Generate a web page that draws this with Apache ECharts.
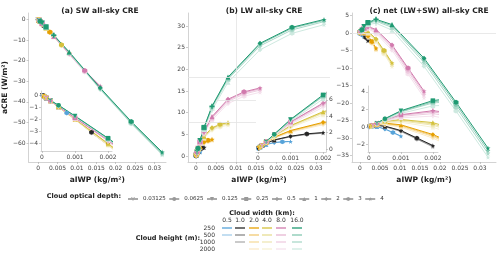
<!DOCTYPE html>
<html><head><meta charset="utf-8">
<script src="https://cdn.jsdelivr.net/npm/echarts@6/dist/echarts.min.js"></script>
<style>html,body{margin:0;padding:0;background:#fff}#c{width:500px;height:254px}</style>
</head><body><div id="c"></div>
<script>
// ---------------- data ----------------
const TAU_LABELS = ['0.03125','0.0625','0.125','0.25','0.5','1','2','3','4'];
const WIDTH_LABELS = ['0.5','1.0','2.0','4.0','8.0','16.0'];
const HEIGHT_LABELS = ['250','500','1000','2000'];

// aIWP (kg/m2) per cloud width, one value per optical depth
const AIWP_05 = [0.0000078,0.0000156,0.0000313,0.0000625,0.000125,0.00025,0.0005,0.00075,0.001];
const AIWP_1  = [0.0000156,0.0000313,0.0000625,0.000125,0.00025,0.0005,0.001,0.0015,0.002];
const AIWP_2  = [0.0000313,0.0000625,0.000125,0.00025,0.0005,0.001,0.002,0.003,0.004];
const AIWP_4  = [0.0000625,0.000125,0.00025,0.0005,0.001,0.002,0.004,0.006,0.008];
const AIWP_8  = [0.000125,0.00025,0.0005,0.001,0.002,0.004,0.008,0.012,0.016];
const AIWP_16 = [0.00025,0.0005,0.001,0.002,0.004,0.008,0.016,0.024,0.032];

// SW aCRE, rows = cloud heights 250, 500, 1000, 2000
const SW_05 = [[-0.015,-0.03,-0.06,-0.12,-0.25,-0.5,-1.0,-1.5,-1.95],[-0.015,-0.03,-0.06,-0.12,-0.25,-0.51,-1.01,-1.52,-1.97]];
const SW_1 = [[-0.03,-0.06,-0.12,-0.25,-0.5,-1.0,-1.95,-3.1,-4.1],[-0.03,-0.06,-0.12,-0.25,-0.51,-1.01,-1.97,-3.13,-4.14],[-0.03,-0.06,-0.12,-0.26,-0.51,-1.02,-1.99,-3.16,-4.18]];
const SW_2 = [[-0.06,-0.12,-0.24,-0.49,-1.0,-2.0,-4.1,-6.1,-8.2],[-0.06,-0.12,-0.24,-0.5,-1.01,-2.02,-4.14,-6.16,-8.28],[-0.06,-0.12,-0.25,-0.5,-1.02,-2.04,-4.18,-6.22,-8.36],[-0.06,-0.13,-0.25,-0.51,-1.03,-2.06,-4.22,-6.28,-8.44]];
const SW_4 = [[-0.12,-0.24,-0.48,-0.98,-2.0,-4.05,-8.2,-12.3,-16.2],[-0.12,-0.24,-0.49,-0.99,-2.02,-4.1,-8.28,-12.4,-16.4],[-0.12,-0.25,-0.49,-1.0,-2.04,-4.14,-8.36,-12.55,-16.5],[-0.13,-0.25,-0.5,-1.01,-2.06,-4.18,-8.44,-12.7,-16.7]];
const SW_8 = [[-0.23,-0.47,-0.95,-1.9,-3.75,-8.1,-16.5,-24.8,-32.3],[-0.23,-0.47,-0.96,-1.92,-3.79,-8.18,-16.7,-25.0,-32.6],[-0.24,-0.48,-0.97,-1.94,-3.83,-8.26,-16.8,-25.3,-32.9],[-0.24,-0.48,-0.98,-1.96,-3.86,-8.34,-17.0,-25.5,-33.2]];
const SW_16 = [[-0.45,-0.85,-1.75,-3.6,-7.6,-15.8,-33.2,-49.5,-64.4],[-0.45,-0.86,-1.77,-3.63,-7.67,-15.95,-33.5,-49.9,-64.9],[-0.46,-0.87,-1.79,-3.67,-7.75,-16.1,-33.8,-50.3,-65.4],[-0.46,-0.88,-1.8,-3.7,-7.8,-16.2,-34.0,-50.6,-65.8]];

// LW aCRE
const LW_05 = [[0.03,0.06,0.11,0.21,0.36,0.55,0.78,0.88,0.92],[0.03,0.05,0.11,0.2,0.35,0.54,0.76,0.86,0.9]];
const LW_1 = [[0.06,0.11,0.23,0.41,0.72,1.1,1.55,1.85,2.0],[0.06,0.11,0.22,0.4,0.7,1.08,1.52,1.81,1.96],[0.05,0.11,0.22,0.39,0.68,1.05,1.48,1.77,1.92]];
const LW_2 = [[0.11,0.23,0.45,0.82,1.44,2.25,3.25,3.65,3.85],[0.11,0.22,0.44,0.8,1.4,2.2,3.18,3.58,3.78],[0.11,0.21,0.43,0.78,1.36,2.14,3.1,3.5,3.7],[0.1,0.2,0.41,0.74,1.3,2.04,2.96,3.35,3.55]];
const LW_4 = [[0.23,0.45,0.9,1.64,2.85,4.55,6.5,7.3,7.7],[0.22,0.44,0.88,1.6,2.8,4.45,6.35,7.15,7.55],[0.21,0.43,0.86,1.56,2.72,4.35,6.2,7.0,7.4],[0.2,0.41,0.82,1.5,2.6,4.15,5.95,6.7,7.1]];
const LW_8 = [[0.45,0.9,1.8,3.3,5.6,9.1,13.1,14.8,15.7],[0.45,0.9,1.75,3.25,5.5,8.9,12.9,14.6,15.5],[0.43,0.87,1.7,3.15,5.35,8.7,12.6,14.3,15.2],[0.41,0.82,1.62,3.0,5.1,8.3,12.1,13.8,14.7]];
const LW_16 = [[0.9,1.8,3.6,6.6,11.5,18.2,26.0,29.7,31.5],[0.9,1.8,3.55,6.5,11.3,18.0,25.8,29.5,31.3],[0.85,1.75,3.5,6.4,11.1,17.7,25.4,29.1,31.0],[0.8,1.65,3.35,6.1,10.6,17.0,24.5,28.3,30.3]];

// net aCRE
const NET_05 = [[0.015,0.03,0.05,0.09,0.11,0.05,-0.22,-0.62,-1.03],[0.015,0.02,0.05,0.08,0.1,0.03,-0.25,-0.66,-1.07]];
const NET_1 = [[0.03,0.05,0.11,0.16,0.22,0.1,-0.4,-1.25,-2.1],[0.03,0.05,0.1,0.15,0.19,0.07,-0.45,-1.32,-2.18],[0.02,0.05,0.1,0.13,0.17,0.03,-0.51,-1.39,-2.26]];
const NET_2 = [[0.05,0.11,0.21,0.33,0.44,0.25,-0.85,-2.45,-4.35],[0.05,0.1,0.2,0.3,0.39,0.18,-0.96,-2.58,-4.5],[0.05,0.09,0.18,0.28,0.34,0.1,-1.08,-2.72,-4.66],[0.04,0.07,0.16,0.23,0.27,-0.02,-1.26,-2.93,-4.89]];
const NET_4 = [[0.11,0.21,0.42,0.66,0.85,0.5,-1.7,-5.0,-8.5],[0.1,0.2,0.39,0.61,0.78,0.35,-1.93,-5.25,-8.85],[0.09,0.18,0.37,0.56,0.68,0.21,-2.16,-5.55,-9.1],[0.07,0.16,0.32,0.49,0.54,-0.03,-2.49,-6.0,-9.6]];
const NET_8 = [[0.22,0.43,0.85,1.4,1.85,1.0,-3.4,-10.0,-16.6],[0.22,0.43,0.79,1.33,1.71,0.72,-3.8,-10.4,-17.1],[0.19,0.39,0.73,1.21,1.52,0.44,-4.2,-11.0,-17.7],[0.17,0.34,0.64,1.04,1.24,-0.04,-4.9,-11.7,-18.5]];
const NET_16 = [[0.45,0.95,1.85,3.0,3.9,2.4,-7.2,-19.8,-32.9],[0.45,0.94,1.78,2.87,3.63,2.05,-7.7,-20.4,-33.6],[0.39,0.88,1.71,2.73,3.35,1.6,-8.4,-21.2,-34.4],[0.34,0.77,1.55,2.4,2.8,0.8,-9.5,-22.3,-35.5]];

// axis tick values
const MAIN_X_TICKS = [0,0.005,0.01,0.015,0.02,0.025,0.03];
const INSET_X_TICKS = [0,0.001,0.002];
const SW_Y_TICKS = [0,-10,-20,-30,-40,-50,-60];
const LW_Y_TICKS = [0,5,10,15,20,25,30];
const NET_Y_TICKS = [5,0,-5,-10,-15,-20,-25,-30,-35];
const SW_INSET_Y_TICKS = [0,-1,-2,-3,-4];
const LW_INSET_Y_TICKS = [0,2,4,6];
const NET_INSET_Y_TICKS = [4,2,0,-2];
// reference guide lines in panel (b)
const LW_GUIDE_X = 0.008;
const LW_GUIDE_Y = [18.2, 12.9, 7.8];

// ---------------- styling ----------------
const FONT = 'DejaVu Sans';
const WIDTH_COLORS = ['#56a3d9','#262626','#e69f00','#d4c13c','#d17aad','#1f9a72'];
const HEIGHT_MIX = [0, 0.45, 0.62, 0.78];
const SYMS = [
  'path://M4.4,5L4.4,10L5.6,10L5.6,5Z M5,5.7L0.6,3L1.2,2L5.6,4.7Z M5,5.7L9.4,3L8.8,2L4.4,4.7Z',
  'circle',
  'path://M0,0L10,0L5,9Z',
  'rect',
  'path://M3.5,0H6.5V3.5H10V6.5H6.5V10H3.5V6.5H0V3.5H3.5Z',
  'triangle',
  'diamond',
  'path://M5,0L9.33,2.5L9.33,7.5L5,10L0.67,7.5L0.67,2.5Z',
  'path://M5,0L6.2,3.6L10,3.6L6.9,5.9L8.1,9.5L5,7.3L1.9,9.5L3.1,5.9L0,3.6L3.8,3.6Z'
];
function mix(hex, t){
  const n = parseInt(hex.slice(1),16);
  const r=(n>>16)&255,g=(n>>8)&255,b=n&255;
  const f=c=>Math.round(c+(255-c)*t);
  return 'rgb('+f(r)+','+f(g)+','+f(b)+')';
}
const fmt = v => { const a = +Math.abs(v).toFixed(4); return (v<0?'\u2212':'') + String(a); };

const DEFS = [
  {x:AIWP_05, sw:SW_05, lw:LW_05, net:NET_05},
  {x:AIWP_1,  sw:SW_1,  lw:LW_1,  net:NET_1},
  {x:AIWP_2,  sw:SW_2,  lw:LW_2,  net:NET_2},
  {x:AIWP_4,  sw:SW_4,  lw:LW_4,  net:NET_4},
  {x:AIWP_8,  sw:SW_8,  lw:LW_8,  net:NET_8},
  {x:AIWP_16, sw:SW_16, lw:LW_16, net:NET_16}
];
const KEYS = ['sw','lw','net'];

// grids: 0-2 main, 3-5 inset
const grids = [
  {left:24, top:13, width:142, height:149},
  {left:188, top:13, width:142, height:149},
  {left:352, top:13, width:144, height:149},
  {left:41, top:91, width:71, height:60},
  {left:256, top:92, width:70, height:60},
  {left:368, top:86, width:70, height:66}
];
function axis(gi, min, max, ticks, extra){
  return Object.assign({
    type:'value', gridIndex:gi, min:min, max:max,
    axisLine:{show:true, onZero:false, lineStyle:{color:'#c8c8c8', width:0.8}},
    axisTick:{show:true, length:2, customValues:ticks, lineStyle:{color:'#aaa', width:0.6}},
    axisLabel:{show:true, customValues:ticks, formatter:fmt, fontSize:6, color:'#444', margin:3, fontFamily:FONT},
    splitLine:{show:false}
  }, extra||{});
}
const xName = {name:'aIWP (kg/m\u00b2)', nameLocation:'middle', nameGap:12,
  nameTextStyle:{fontSize:7.5, fontWeight:'bold', color:'#222', fontFamily:FONT}};
const xAxes = [
  axis(0,-0.0025,0.033,MAIN_X_TICKS,xName),
  axis(1,-0.002,0.0335,MAIN_X_TICKS,xName),
  axis(2,-0.002,0.034,MAIN_X_TICKS,xName),
  axis(3,-0.00003,0.00212,INSET_X_TICKS,{z:7}),
  axis(4,-0.00006,0.00209,INSET_X_TICKS,{z:7}),
  axis(5,-0.00003,0.00216,INSET_X_TICKS,{z:7})
];
const yAxes = [
  axis(0,-69.2,3.15,SW_Y_TICKS,{name:'aCRE (W/m\u00b2)', nameLocation:'middle', nameGap:15,
    nameTextStyle:{fontSize:7.5, fontWeight:'bold', color:'#222', fontFamily:FONT}}),
  axis(1,-1.39,33.0,LW_Y_TICKS),
  axis(2,-36.86,5.71,NET_Y_TICKS),
  axis(3,-4.67,0.33,SW_INSET_Y_TICKS,{z:7}),
  axis(4,-0.37,6.95,LW_INSET_Y_TICKS,{z:7, position:'right'}),
  axis(5,-2.84,4.66,NET_INSET_Y_TICKS,{z:7})
];

const series = [];
// guide lines
const guideStyle = {color:'#e3e3e3', width:0.8, type:'solid'};
series.push({type:'line', xAxisIndex:1, yAxisIndex:1, data:[], silent:true, z:1,
  markLine:{silent:true, symbol:'none', label:{show:false}, lineStyle:guideStyle, animation:false,
    data:[
      {xAxis:LW_GUIDE_X},
      [{coord:[-0.002,LW_GUIDE_Y[0]]},{coord:[0.0335,LW_GUIDE_Y[0]]}],
      [{coord:[0.005,LW_GUIDE_Y[1]]},{coord:[0.015,LW_GUIDE_Y[1]]}],
      [{coord:[-0.002,LW_GUIDE_Y[2]]},{coord:[0.015,LW_GUIDE_Y[2]]}]
    ]}});
series.push({type:'line', xAxisIndex:2, yAxisIndex:2, data:[], silent:true, z:1,
  markLine:{silent:true, symbol:'none', label:{show:false}, lineStyle:guideStyle, animation:false,
    data:[{yAxis:0}]}});

for (let p=0;p<3;p++){
  for (let w=0; w<DEFS.length; w++){
    const d = DEFS[w], rows = d[KEYS[p]];
    for (let h=rows.length-1; h>=0; h--){
      const col = mix(WIDTH_COLORS[w], HEIGHT_MIX[h]);
      const data = rows[h].map((v,i)=>({value:[d.x[i], v], symbol:SYMS[i]}));
      const base = {type:'line', data:data, showAllSymbol:true, silent:true,
        lineStyle:{color:col, width:1}, itemStyle:{color:col}, animation:false,
        name: WIDTH_LABELS[w]+'/'+HEIGHT_LABELS[h]};
      series.push(Object.assign({}, base, {xAxisIndex:p, yAxisIndex:p, z:2, symbolSize:5}));
      series.push(Object.assign({}, base, {xAxisIndex:p+3, yAxisIndex:p+3, z:6, clip:true, symbolSize:4.5}));
    }
  }
}
// legend-only series for optical depths
TAU_LABELS.forEach((t,i)=>{
  series.push({type:'line', name:t, xAxisIndex:0, yAxisIndex:0, data:[], symbol:SYMS[i], symbolSize:5,
    lineStyle:{color:'#aaa', width:1}, itemStyle:{color:'#999'}});
});

// width/height table legend (graphic)
const COL_X = [227,240,254,267,281,297];
const ROW_Y = [228,235,242,249];
const graphic = [];
graphic.push({type:'text', x:121, y:196, style:{text:'Cloud optical depth:', font:'bold 6.5px '+FONT, fill:'#222', textAlign:'right', textVerticalAlign:'middle'}});
graphic.push({type:'text', x:262, y:213, style:{text:'Cloud width (km):', font:'bold 6.5px '+FONT, fill:'#222', textAlign:'center', textVerticalAlign:'middle'}});
graphic.push({type:'text', x:200, y:238, style:{text:'Cloud height (m):', font:'bold 6.5px '+FONT, fill:'#222', textAlign:'right', textVerticalAlign:'middle'}});
WIDTH_LABELS.forEach((t,i)=>graphic.push({type:'text', x:COL_X[i], y:220, style:{text:t, font:'6px '+FONT, fill:'#333', textAlign:'center', textVerticalAlign:'middle'}}));
HEIGHT_LABELS.forEach((t,j)=>graphic.push({type:'text', x:215, y:ROW_Y[j], style:{text:t, font:'6px '+FONT, fill:'#333', textAlign:'right', textVerticalAlign:'middle'}}));
DEFS.forEach((d,i)=>{
  for (let h=0; h<d.sw.length; h++){
    graphic.push({type:'line', shape:{x1:COL_X[i]-5, y1:ROW_Y[h], x2:COL_X[i]+5, y2:ROW_Y[h]},
      style:{stroke:mix(WIDTH_COLORS[i], HEIGHT_MIX[h]), lineWidth:1.3}});
  }
});

const chart = echarts.init(document.getElementById('c'), null, {renderer:'canvas'});
chart.setOption({
  animation:false,
  backgroundColor:'#fff',
  textStyle:{fontFamily:FONT},
  title:[
    {text:'(a) SW all-sky CRE', left:95, top:2, textAlign:'center', textStyle:{fontSize:7.5, fontWeight:'bold', color:'#222', fontFamily:FONT}},
    {text:'(b) LW all-sky CRE', left:259, top:2, textAlign:'center', textStyle:{fontSize:7.5, fontWeight:'bold', color:'#222', fontFamily:FONT}},
    {text:'(c) net (LW+SW) all-sky CRE', left:424, top:2, textAlign:'center', textStyle:{fontSize:7.5, fontWeight:'bold', color:'#222', fontFamily:FONT}}
  ],
  legend:{data:TAU_LABELS, left:122, top:191, itemWidth:10, itemHeight:5, itemGap:2.5, selectedMode:false,
    textStyle:{fontSize:5.5, color:'#333', fontFamily:FONT}},
  grid:grids, xAxis:xAxes, yAxis:yAxes, series:series, graphic:graphic
});
</script></body></html>
